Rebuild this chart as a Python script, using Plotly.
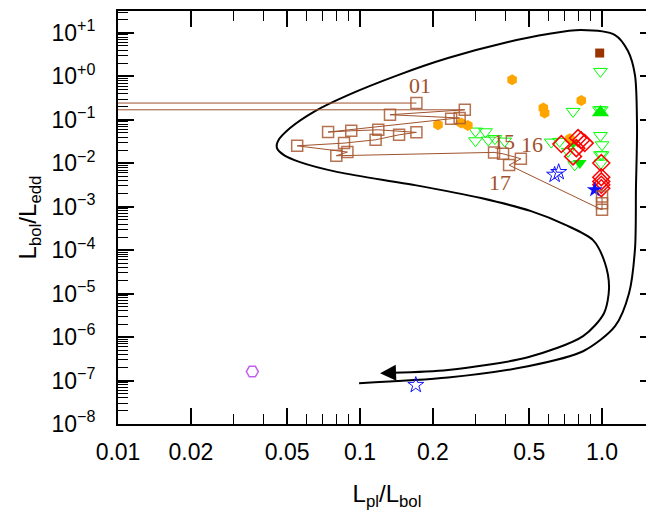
import numpy as np
import plotly.graph_objects as go

# brown track (one source, years 01 ... 17), two points lie off the left edge
track_x = [0.171, 0.005, 0.005, 0.271, 0.133, 0.258, 0.238, 0.0738, 0.092, 0.119, 0.171, 0.145,
           0.116, 0.0859, 0.0550, 0.0887, 0.0798, 0.358, 0.390, 0.462, 0.413, 1.0, 1.0, 1.0]
track_y = [0.243, 0.243, 0.170, 0.170, 0.131, 0.110, 0.106, 0.0522, 0.0559, 0.0589, 0.0514, 0.0452,
           0.0347, 0.0291, 0.0252, 0.0181, 0.0149, 0.0178, 0.0165, 0.0127, 0.00907, 0.000848, 0.00121, 0.00173]
year_labels = ["01", "15", "16", "17"]
year_label_x = [0.1765, 0.394, 0.514, 0.378]
year_label_y = [0.62, 0.0319, 0.0266, 0.00368]

# orange filled hexagons
orange_x = [0.425, 0.821, 0.572, 0.579, 0.210, 0.262, 0.279, 0.736]
orange_y = [0.835, 0.280, 0.186, 0.143, 0.0769, 0.084, 0.0744, 0.0366]

# green open down-triangles
green_open_x = [0.985, 0.759, 0.300, 0.330, 0.300, 0.339, 0.361, 0.396, 0.617, 0.668, 0.724, 0.771,
                0.975, 0.993, 0.985, 1.0, 0.985, 1.0, 0.99]
green_open_y = [1.30, 0.156, 0.055, 0.053, 0.0329, 0.0341, 0.037, 0.0324, 0.0307, 0.0319, 0.0188, 0.00922,
                0.170, 0.170, 0.0434, 0.0266, 0.0157, 0.0157, 0.0101]
# green filled down-triangles
green_fill_x = [0.759, 0.809]
green_fill_y = [0.0291, 0.0101]
# green filled up-triangle
green_up_x = [0.985]
green_up_y = [0.148]

# red open diamonds
red_x = [0.679, 0.759, 0.796, 0.848, 0.783, 0.82, 0.993, 0.993, 0.993, 0.993, 0.993]
red_y = [0.0276, 0.0144, 0.038, 0.0291, 0.0223, 0.034, 0.0101, 0.00478, 0.00383, 0.00320, 0.00267]

# blue stars
blue_open_x = [0.637, 0.662, 0.170]
blue_open_y = [0.00542, 0.00626, 7.9e-8]
blue_fill_x = [0.933]
blue_fill_y = [0.00245]

# purple open hexagon, brown filled square
purple_x = [0.0359]
purple_y = [1.61e-7]
brownsq_x = [0.978]
brownsq_y = [3.44]

# schematic loop (outer start at bottom, around the top, back inside to the arrow)
loop_x = [0.0991, 0.231, 0.494, 0.835, 1.132, 1.293, 1.369, 1.381, 1.395, 1.368, 1.28, 1.132, 0.818,
          0.598, 0.409, 0.231, 0.1436, 0.0892, 0.0652, 0.0514, 0.0458, 0.0454, 0.0485, 0.0565, 0.0811,
          0.1687, 0.316, 0.509, 0.71, 0.918, 1.029, 1.069, 1.019, 0.835, 0.494, 0.231, 0.1368]
loop_y = [8.67e-8, 1.17e-7, 2.13e-7, 4.72e-7, 1.78e-6, 1.02e-5, 1.11e-4, 2.68e-3, 0.0646, 1.07, 3.82, 8.93,
          11.6, 9.42, 6.17, 2.64, 1.07, 0.371, 0.159, 0.0646, 0.0324, 0.0223, 0.0154, 0.01064, 6.26e-3,
          3.14e-3, 1.58e-3, 7.9e-4, 3.77e-4, 1.7e-4, 5.0e-5, 1.33e-5, 3.55e-6, 1.05e-6, 3.43e-7, 1.75e-7,
          1.51e-7]
arrow_tip = (0.121, 1.47e-7)

x_ticks = [0.01, 0.02, 0.05, 0.1, 0.2, 0.5, 1.0]
x_ticktext = ["0.01", "0.02", "0.05", "0.1", "0.2", "0.5", "1.0"]
y_exps = list(range(-8, 2))

brown = "#a0522d"
fig = go.Figure()

fig.add_trace(go.Scatter(x=loop_x, y=loop_y, mode="lines",
                         line=dict(color="black", width=2, shape="spline", smoothing=0.8),
                         hoverinfo="skip"))

fig.add_trace(go.Scatter(x=green_open_x, y=green_open_y, mode="markers",
                         marker=dict(symbol="triangle-down-open", size=12, color="#00ff00", line=dict(width=1))))
fig.add_trace(go.Scatter(x=green_fill_x, y=green_fill_y, mode="markers",
                         marker=dict(symbol="triangle-down", size=12, color="#00ee00")))
fig.add_trace(go.Scatter(x=green_up_x, y=green_up_y, mode="markers",
                         marker=dict(symbol="triangle-up", size=15, color="#00ee00")))
fig.add_trace(go.Scatter(x=orange_x, y=orange_y, mode="markers",
                         marker=dict(symbol="hexagon", size=11, color="#ffa500")))
fig.add_trace(go.Scatter(x=red_x, y=red_y, mode="markers",
                         marker=dict(symbol="diamond-open", size=13, color="#ff0000", line=dict(width=1.5))))
fig.add_trace(go.Scatter(x=blue_open_x, y=blue_open_y, mode="markers",
                         marker=dict(symbol="star-open", size=12, color="#1010ff", line=dict(width=1))))
fig.add_trace(go.Scatter(x=blue_fill_x, y=blue_fill_y, mode="markers",
                         marker=dict(symbol="star", size=12, color="#1010ff")))
fig.add_trace(go.Scatter(x=purple_x, y=purple_y, mode="markers",
                         marker=dict(symbol="hexagon2-open", size=12, color="#c060f0", line=dict(width=1.5))))
fig.add_trace(go.Scatter(x=brownsq_x, y=brownsq_y, mode="markers",
                         marker=dict(symbol="square", size=9, color="#9a3300")))
fig.add_trace(go.Scatter(x=track_x, y=track_y, mode="lines+markers",
                         line=dict(color=brown, width=1),
                         marker=dict(symbol="square-open", size=11, color="rgba(170,90,50,0.85)",
                                     line=dict(width=1.5))))

# year labels
for t, lx, ly in zip(year_labels, year_label_x, year_label_y):
    fig.add_annotation(x=np.log10(lx), y=np.log10(ly), text=t, showarrow=False,
                       font=dict(family="Liberation Serif", size=22, color=brown))

# arrow head at the end of the loop
fig.add_annotation(x=np.log10(arrow_tip[0]), y=np.log10(arrow_tip[1]),
                   ax=np.log10(loop_x[-1]), ay=np.log10(loop_y[-1]), axref="x", ayref="y",
                   text="", showarrow=True, arrowhead=2, arrowsize=1.6, arrowwidth=2, arrowcolor="black")

axis_common = dict(showline=True, linecolor="black", linewidth=2, mirror="allticks", ticks="inside",
                   ticklen=16, tickwidth=1.5, tickcolor="black", showgrid=False, zeroline=False,
                   automargin=False,
                   tickfont=dict(family="Liberation Sans", size=23, color="black"),
                   minor=dict(ticks="inside", ticklen=10, tickwidth=1.2, tickcolor="black", dtick="D1",
                              showgrid=False))

fig.update_xaxes(type="log", range=[-2, 0.223], tickvals=x_ticks, ticktext=x_ticktext,
                 ticklabelstandoff=6,
                 title=dict(text="L<sub>pl</sub>/L<sub>bol</sub>", standoff=22,
                            font=dict(family="Liberation Sans", size=24, color="black")),
                 **axis_common)
fig.update_yaxes(type="log", range=[-8, 1.504], tickvals=[10.0 ** e for e in y_exps],
                 ticktext=["10<sup>%s%d</sup>" % ("+" if e >= 0 else "−", abs(e)) for e in y_exps],
                 ticklabelstandoff=16,
                 title=dict(text="L<sub>bol</sub>/L<sub>edd</sub>", standoff=8,
                            font=dict(family="Liberation Sans", size=24, color="black")),
                 **axis_common)

fig.update_layout(width=654, height=516, margin=dict(l=110, r=6, t=3, b=100),
                  paper_bgcolor="white", plot_bgcolor="white", showlegend=False)

fig.write_html("out.html")
